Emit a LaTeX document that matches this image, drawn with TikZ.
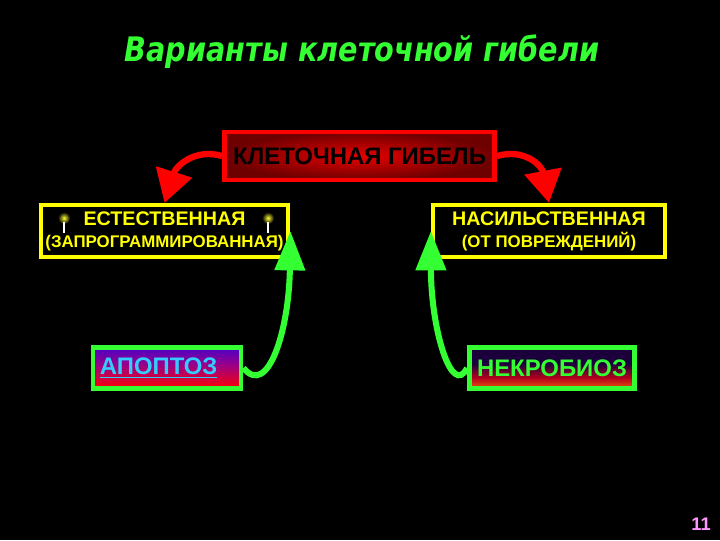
\documentclass[tikz,border=0pt]{standalone}
\usepackage{fontspec}
\setmainfont{Liberation Sans}
\newfontfamily\titlefont[FakeStretch=0.85]{DejaVu Sans}
\usetikzlibrary{arrows.meta}

\definecolor{bgblack}{RGB}{0,0,0}
\definecolor{lime}{RGB}{51,255,51}
\definecolor{gelb}{RGB}{255,255,0}
\definecolor{hellrot}{RGB}{255,0,0}
\definecolor{dunkelrot}{RGB}{110,0,0}
\definecolor{himmel}{RGB}{51,204,255}
\definecolor{rosa}{RGB}{255,150,255}
\definecolor{violett}{RGB}{28,0,60}

% shadings of the two lower boxes
\pgfdeclareverticalshading{aposhade}{100bp}{color(0bp)=(red); color(25bp)=(red); color(55bp)=({rgb,255:red,150;green,0;blue,140}); color(75bp)=({rgb,255:red,75;green,0;blue,200}); color(100bp)=({rgb,255:red,75;green,0;blue,200})}
\pgfdeclareverticalshading{nekshade}{100bp}{color(0bp)=(orange); color(20bp)=(orange); color(38bp)=({rgb,255:red,180;green,0;blue,30}); color(55bp)=(violett); color(100bp)=(violett)}

\tikzset{
    gelbbox/.style={draw=gelb, line width=3pt, fill=black, minimum height=1.3cm,
        text=gelb, align=center, font=\bfseries\fontsize{14}{15.5}\selectfont},
    gruenbox/.style={draw=lime, line width=3.5pt, minimum height=1.03cm,
        font=\bfseries\fontsize{17}{19}\selectfont},
    rotpfeil/.style={draw=hellrot, line width=4.5pt, -{Triangle[length=23pt,width=26pt]}},
    gruenpfeil/.style={draw=lime, line width=4.3pt, -{Triangle[length=28pt,width=21pt]}}
}
\newcommand{\zweitzeile}[1]{{\fontsize{12}{14}\selectfont #1}}

\begin{document}
\begin{tikzpicture}[x=0.025cm,y=-0.025cm]
    % background
    \fill[bgblack] (0,0) rectangle (720,540);
    \useasboundingbox (0,0) rectangle (720,540);

    % title
    \node[text=lime, font=\titlefont\bfseries\itshape\fontsize{24}{27}\selectfont] (titel) at (362,52) {Варианты клеточной гибели};

    % top box
    \node[draw=hellrot, line width=3.5pt, minimum width=6.75cm, minimum height=1.2cm,
        inner color=hellrot!90!black, outer color=dunkelrot,
        font=\bfseries\fontsize{17}{19}\selectfont, text=black] (tod) at (359.5,156) {КЛЕТОЧНАЯ ГИБЕЛЬ};

    % two kinds
    \node[gelbbox, minimum width=6.125cm] (est) at (164.5,231) {ЕСТЕСТВЕННАЯ\\\zweitzeile{(ЗАПРОГРАММИРОВАННАЯ)}};
    \node[gelbbox, minimum width=5.8cm] (nas) at (549,231) {НАСИЛЬСТВЕННАЯ\\\zweitzeile{(ОТ ПОВРЕЖДЕНИЙ)}};

    % candles
    \foreach \x in {64,268} {
        \shade[inner color=gelb!80!white, outer color=black] (\x,218) circle (6);
        \fill[white] (\x-1.3,222) rectangle (\x+1.3,233);
    }

    % lower boxes
    \node[gruenbox, minimum width=3.7cm, text=himmel, anchor=west, shading=aposhade,
        text width=3.35cm] (apo) at (90.5,368) {\underline{АПОПТОЗ}};
    \node[gruenbox, minimum width=4.125cm, text=lime, shading=nekshade] (nek) at (552,368) {НЕКРОБИОЗ};

    % arrows
    \draw[rotpfeil] (tod.west) .. controls (195,148) and (176,166) .. (est.north);
    \draw[rotpfeil] (tod.east) .. controls (525,148) and (542,166) .. (nas.north);
    \draw[gruenpfeil] (apo.east) .. controls (268,398) and (289,330) .. (est.east);
    \draw[gruenpfeil] (nek.west) .. controls (452,398) and (431,330) .. (nas.west);

    % page number
    \node[text=rosa, font=\bfseries\fontsize{13}{15}\selectfont] (nr) at (701,524) {11};
\end{tikzpicture}
\end{document}
